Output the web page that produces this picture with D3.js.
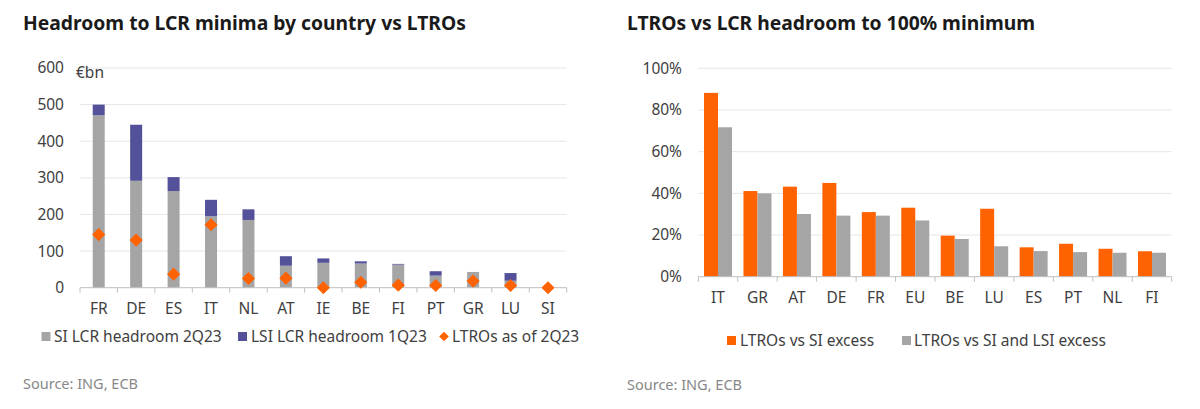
<!DOCTYPE html>
<html>
<head>
<meta charset="utf-8">
<script src="https://cdn.jsdelivr.net/npm/d3@7"></script>
<style>
  body { margin: 0; background: #fff; }
  svg { display: block; font-family: "Noto Sans", "Open Sans", sans-serif; }
  .title { font-weight: bold; font-size: 19.3px; fill: #1a1a1a; }
  .tick-label { font-size: 15.5px; fill: #404040; }
  .legend { font-size: 15.5px; fill: #404040; }
  .source { font-size: 14.5px; fill: #888; }
</style>
</head>
<body>
<svg id="chart" width="1200" height="409"></svg>
<script>
// ---- left chart data ----
const countriesL = ["FR", "DE", "ES", "IT", "NL", "AT", "IE", "BE", "FI", "PT", "GR", "LU", "SI"];
const siHeadroom = [471, 292, 264, 195, 185, 60, 68, 66, 63, 33, 43, 19, 0];
const lsiHeadroom = [29, 153, 38, 45, 29, 26, 12, 6, 2, 12, 0, 21, 0];
const ltros = [145, 130, 37, 172, 25, 26, 0, 15, 7, 6, 18, 6, 0];
const yTicksL = [0, 100, 200, 300, 400, 500, 600];

// ---- right chart data ----
const countriesR = ["IT", "GR", "AT", "DE", "FR", "EU", "BE", "LU", "ES", "PT", "NL", "FI"];
const vsSI = [88.2, 41.1, 43.2, 45.0, 31.0, 33.1, 19.7, 32.6, 14.1, 15.8, 13.4, 12.2];
const vsSIandLSI = [71.7, 40.0, 30.1, 29.3, 29.3, 27.0, 18.1, 14.6, 12.3, 11.8, 11.5, 11.5];
const yTicksR = [0, 20, 40, 60, 80, 100];

const grey = "#a5a5a5", blue = "#525199", orange = "#ff6200";
const gridColor = "#e6e6e6", axisColor = "#bfbfbf";

const svg = d3.select("#chart");

// =========== LEFT CHART ===========
const xL = d3.scaleBand().domain(countriesL).range([80, 566.7]);
const yL = d3.scaleLinear().domain([0, 600]).range([287.7, 68]);

svg.append("text").attr("class", "title").attr("x", 23).attr("y", 30)
    .text("Headroom to LCR minima by country vs LTROs");

// gridlines
svg.append("g").selectAll("line")
    .data(yTicksL.filter(d => d > 0))
    .enter().append("line")
    .attr("x1", 80).attr("x2", 566.7)
    .attr("y1", d => yL(d)).attr("y2", d => yL(d))
    .attr("stroke", gridColor).attr("stroke-width", 1);

// y tick labels
svg.append("g").selectAll("text")
    .data(yTicksL)
    .enter().append("text")
    .attr("class", "tick-label")
    .attr("x", 64).attr("y", d => yL(d))
    .attr("dy", "0.35em")
    .attr("text-anchor", "end")
    .text(d => d);

svg.append("text").attr("class", "tick-label")
    .attr("x", 76).attr("y", 78).text("€bn");

const barWL = 12;
// SI bars
svg.append("g").selectAll("rect")
    .data(countriesL)
    .enter().append("rect")
    .attr("x", d => xL(d) + xL.bandwidth() / 2 - barWL / 2)
    .attr("width", barWL)
    .attr("y", (d, i) => yL(siHeadroom[i]))
    .attr("height", (d, i) => yL(0) - yL(siHeadroom[i]))
    .attr("fill", grey);

// LSI bars stacked
svg.append("g").selectAll("rect")
    .data(countriesL)
    .enter().append("rect")
    .attr("x", d => xL(d) + xL.bandwidth() / 2 - barWL / 2)
    .attr("width", barWL)
    .attr("y", (d, i) => yL(siHeadroom[i] + lsiHeadroom[i]))
    .attr("height", (d, i) => yL(siHeadroom[i]) - yL(siHeadroom[i] + lsiHeadroom[i]))
    .attr("fill", blue);

// x axis
const axL = svg.append("g");
axL.append("line").attr("x1", 80).attr("x2", 566.7)
    .attr("y1", yL(0)).attr("y2", yL(0)).attr("stroke", axisColor);
axL.selectAll(".tk")
    .data(countriesL.concat(["__end"]))
    .enter().append("line")
    .attr("x1", (d, i) => i < countriesL.length ? xL(d) : xL.range()[1])
    .attr("x2", (d, i) => i < countriesL.length ? xL(d) : xL.range()[1])
    .attr("y1", yL(0)).attr("y2", yL(0) + 5)
    .attr("stroke", axisColor);
axL.selectAll("text")
    .data(countriesL)
    .enter().append("text")
    .attr("class", "tick-label")
    .attr("x", d => xL(d) + xL.bandwidth() / 2)
    .attr("y", 314)
    .attr("text-anchor", "middle")
    .text(d => d);

// LTRO diamonds
const diamond = d3.symbol().type(d3.symbolDiamond2).size(110);
svg.append("g").selectAll("path")
    .data(countriesL)
    .enter().append("path")
    .attr("d", diamond)
    .attr("transform", (d, i) => `translate(${xL(d) + xL.bandwidth() / 2},${yL(ltros[i])})`)
    .attr("fill", orange);

// legend left
const legL = svg.append("g");
legL.append("rect").attr("x", 41.5).attr("y", 332).attr("width", 9).attr("height", 9).attr("fill", grey);
legL.append("text").attr("class", "legend").attr("x", 54).attr("y", 342).text("SI LCR headroom 2Q23");
legL.append("rect").attr("x", 238).attr("y", 332).attr("width", 9).attr("height", 9).attr("fill", blue);
legL.append("text").attr("class", "legend").attr("x", 251).attr("y", 342).text("LSI LCR headroom 1Q23");
legL.append("path").attr("d", d3.symbol().type(d3.symbolDiamond2).size(60))
    .attr("transform", "translate(444,336.5)").attr("fill", orange);
legL.append("text").attr("class", "legend").attr("x", 452).attr("y", 342).text("LTROs as of 2Q23");

svg.append("text").attr("class", "source").attr("x", 23).attr("y", 389).text("Source: ING, ECB");

// =========== RIGHT CHART ===========
const xR = d3.scaleBand().domain(countriesR).range([698.3, 1171.7]);
const yR = d3.scaleLinear().domain([0, 100]).range([276.7, 68.3]);

svg.append("text").attr("class", "title").attr("x", 627).attr("y", 30)
    .text("LTROs vs LCR headroom to 100% minimum");

svg.append("g").selectAll("line")
    .data(yTicksR.filter(d => d > 0))
    .enter().append("line")
    .attr("x1", 698.3).attr("x2", 1171.7)
    .attr("y1", d => yR(d)).attr("y2", d => yR(d))
    .attr("stroke", gridColor);

svg.append("g").selectAll("text")
    .data(yTicksR)
    .enter().append("text")
    .attr("class", "tick-label")
    .attr("x", 682).attr("y", d => yR(d))
    .attr("dy", "0.35em")
    .attr("text-anchor", "end")
    .text(d => d + "%");

const barWR = 14;
svg.append("g").selectAll("rect")
    .data(countriesR)
    .enter().append("rect")
    .attr("x", d => xR(d) + xR.bandwidth() / 2 - barWR)
    .attr("width", barWR)
    .attr("y", (d, i) => yR(vsSI[i]))
    .attr("height", (d, i) => yR(0) - yR(vsSI[i]))
    .attr("fill", orange);

svg.append("g").selectAll("rect")
    .data(countriesR)
    .enter().append("rect")
    .attr("x", d => xR(d) + xR.bandwidth() / 2)
    .attr("width", barWR)
    .attr("y", (d, i) => yR(vsSIandLSI[i]))
    .attr("height", (d, i) => yR(0) - yR(vsSIandLSI[i]))
    .attr("fill", grey);

const axR = svg.append("g");
axR.append("line").attr("x1", 698.3).attr("x2", 1171.7)
    .attr("y1", yR(0)).attr("y2", yR(0)).attr("stroke", axisColor);
axR.selectAll(".tk")
    .data(countriesR.concat(["__end"]))
    .enter().append("line")
    .attr("x1", (d, i) => i < countriesR.length ? xR(d) : xR.range()[1])
    .attr("x2", (d, i) => i < countriesR.length ? xR(d) : xR.range()[1])
    .attr("y1", yR(0)).attr("y2", yR(0) + 5)
    .attr("stroke", axisColor);
axR.selectAll("text")
    .data(countriesR)
    .enter().append("text")
    .attr("class", "tick-label")
    .attr("x", d => xR(d) + xR.bandwidth() / 2)
    .attr("y", 303)
    .attr("text-anchor", "middle")
    .text(d => d);

const legR = svg.append("g");
legR.append("rect").attr("x", 727).attr("y", 336).attr("width", 9).attr("height", 9).attr("fill", orange);
legR.append("text").attr("class", "legend").attr("x", 740).attr("y", 346).text("LTROs vs SI excess");
legR.append("rect").attr("x", 902).attr("y", 336).attr("width", 9).attr("height", 9).attr("fill", grey);
legR.append("text").attr("class", "legend").attr("x", 914).attr("y", 346).text("LTROs vs SI and LSI excess");

svg.append("text").attr("class", "source").attr("x", 627).attr("y", 390).text("Source: ING, ECB");
</script>
</body>
</html>
